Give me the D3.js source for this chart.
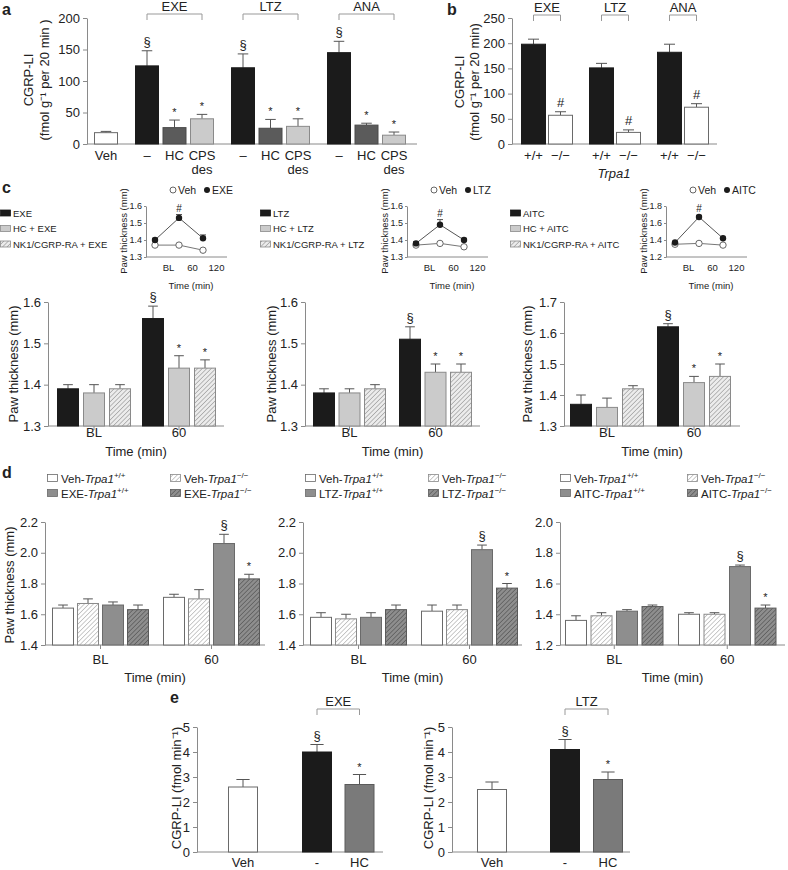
<!DOCTYPE html>
<html><head><meta charset="utf-8">
<script src="https://cdn.jsdelivr.net/npm/d3@7"></script>
<style>body{margin:0;background:#fff} svg{font-family:"Liberation Sans",Arial,sans-serif}</style>
</head><body><svg id="c" width="788" height="870"></svg>
<script>
// ---------------- DATA ----------------
// Panel a
const aGroupNames = ["", "EXE", "LTZ", "ANA"];
const aLabels = [["Veh"], ["–", "HC", "CPS|des"], ["–", "HC", "CPS|des"], ["–", "HC", "CPS|des"]];
const aMeans = [[18], [124, 26, 40], [121, 25, 28], [145, 30, 14]];
const aErrTop = [[20], [148, 38, 47], [143, 39, 40], [163, 33, 19]];
const aMarks = [[""], ["§", "*", "*"], ["§", "*", "*"], ["§", "*", "*"]];
const aTicks = [0, 50, 100, 150, 200];
// Panel b
const bGroupNames = ["EXE", "LTZ", "ANA"];
const bLabels = ["+/+", "−/−"];
const bMeans = [[198, 57], [151, 23], [182, 73]];
const bErrTop = [[208, 64], [160, 28], [198, 80]];
const bMarks = ["", "#"];
const bTicks = [0, 50, 100, 150, 200, 250];
// Panel c
const cDrugs = ["EXE", "LTZ", "AITC"];
const cTimes = ["BL", "60"];
const cExeMeans = [[1.39, 1.38, 1.39], [1.56, 1.44, 1.44]];
const cExeErr = [[1.40, 1.40, 1.40], [1.59, 1.47, 1.46]];
const cLtzMeans = [[1.38, 1.38, 1.39], [1.51, 1.43, 1.43]];
const cLtzErr = [[1.39, 1.39, 1.40], [1.54, 1.45, 1.45]];
const cAitcMeans = [[1.37, 1.36, 1.42], [1.62, 1.44, 1.46]];
const cAitcErr = [[1.40, 1.39, 1.43], [1.63, 1.46, 1.50]];
const cMarks = [["", "", ""], ["§", "*", "*"]];
const cTicks12 = [1.3, 1.4, 1.5, 1.6];
const cTicks3 = [1.3, 1.4, 1.5, 1.6, 1.7];
// insets of c
const insetTimes = ["BL", "60", "120"];
const insExeVeh = [1.37, 1.37, 1.34];
const insExeDrug = [1.40, 1.53, 1.41];
const insExeErr = [1.41, 1.55, 1.43];
const insLtzVeh = [1.37, 1.38, 1.36];
const insLtzDrug = [1.38, 1.49, 1.40];
const insLtzErr = [1.39, 1.52, 1.41];
const insAitcVeh = [1.35, 1.36, 1.34];
const insAitcDrug = [1.37, 1.67, 1.42];
const insAitcErr = [1.38, 1.69, 1.43];
const insTicks12 = [1.3, 1.4, 1.5, 1.6];
const insTicks3 = [1.2, 1.4, 1.6, 1.8];
// Panel d
const dExeMeans = [[1.64, 1.67, 1.66, 1.63], [1.71, 1.70, 2.06, 1.83]];
const dExeErr = [[1.66, 1.70, 1.68, 1.66], [1.73, 1.76, 2.12, 1.86]];
const dLtzMeans = [[1.58, 1.57, 1.58, 1.63], [1.62, 1.63, 2.02, 1.77]];
const dLtzErr = [[1.61, 1.60, 1.61, 1.66], [1.66, 1.66, 2.05, 1.80]];
const dAitcMeans = [[1.36, 1.39, 1.42, 1.45], [1.40, 1.40, 1.71, 1.44]];
const dAitcErr = [[1.39, 1.41, 1.43, 1.46], [1.41, 1.41, 1.72, 1.46]];
const dMarks = [["", "", "", ""], ["", "", "§", "*"]];
const dTicks12 = [1.4, 1.6, 1.8, 2.0, 2.2];
const dTicks3 = [1.2, 1.4, 1.6, 1.8, 2.0];
// Panel e
const eLabels = ["Veh", "-", "HC"];
const eExeMeans = [2.6, 4.0, 2.7];
const eExeErr = [2.9, 4.3, 3.1];
const eLtzMeans = [2.5, 4.1, 2.9];
const eLtzErr = [2.8, 4.5, 3.2];
const eMarks = ["", "§", "*"];
const eTicks = [0, 1, 2, 3, 4, 5];

// ---------------- STYLE ----------------
const AX = "#8a8a8a", TXT = "#222";
const svg = d3.select("#c");
const defs = svg.append("defs");
function hatch(id, bg, line) {
  const p = defs.append("pattern").attr("id", id).attr("patternUnits", "userSpaceOnUse")
    .attr("width", 3.2).attr("height", 3.2).attr("patternTransform", "rotate(45)");
  p.append("rect").attr("width", 3.2).attr("height", 3.2).attr("fill", bg);
  p.append("line").attr("x1", 0).attr("y1", 0).attr("x2", 0).attr("y2", 3.2).attr("stroke", line).attr("stroke-width", 1.1);
}
hatch("hL", "#ececec", "#8a8a8a");
hatch("hW", "#ffffff", "#a0a0a0");
hatch("hD", "#8e8e8e", "#4a4a4a");
const FILL = {
  white: ["#fff", "#6a6a6a"], black: ["#1b1b1b", "#1b1b1b"], dark: ["#5b5b5b", "#4a4a4a"],
  light: ["#cbcbcb", "#8a8a8a"], hatchL: ["url(#hL)", "#8a8a8a"], hatchW: ["url(#hW)", "#8a8a8a"],
  mid: ["#8e8e8e", "#6a6a6a"], hatchD: ["url(#hD)", "#5a5a5a"], eHC: ["#7a7a7a", "#5a5a5a"]
};

function txt(g, x, y, s, o = {}) {
  return g.append("text").attr("x", x).attr("y", y).text(s)
    .attr("font-size", o.size || 12).attr("fill", o.fill || TXT)
    .attr("text-anchor", o.anchor || "middle").attr("font-weight", o.weight || null)
    .attr("font-style", o.style || null);
}
function vlabel(x, y, s, size) {
  svg.append("text").attr("transform", `translate(${x},${y}) rotate(-90)`).attr("dy", "0.35em")
    .attr("text-anchor", "middle").attr("font-size", size || 12).attr("fill", TXT).text(s);
}
function styleAxis(a, size) {
  a.select(".domain").attr("stroke", AX);
  a.selectAll(".tick line").attr("stroke", AX);
  a.selectAll(".tick text").attr("fill", TXT).attr("font-size", size || 12)
    .attr("font-family", '"Liberation Sans",Arial,sans-serif');
}

// generic grouped bar chart
function barChart(o) {
  const g = svg.append("g");
  const y = d3.scaleLinear().domain(o.yDomain).range(o.yRange);
  const slot = d3.scaleLinear().domain([0, 1]).range([o.start, o.start + o.step]);
  const gf = o.gap / o.step;
  const items = [];
  let k = 0;
  o.means.forEach((grp, gi) => grp.forEach((v, bi) => {
    items.push({ v, e: o.err[gi][bi], mark: o.marks[gi][bi], style: o.styles(gi, bi), gi, bi, x: slot(k + gi * gf) });
    k++;
  }));
  const ax = g.append("g").attr("transform", `translate(${o.axisX},0)`)
    .call(d3.axisLeft(y).tickValues(o.ticks).tickFormat(d3.format(o.fmt)).tickSize(4).tickSizeOuter(0));
  styleAxis(ax, o.tickSize);
  const y0 = y(o.yDomain[0]);
  g.append("line").attr("x1", o.axisX).attr("x2", o.axisEnd).attr("y1", y0).attr("y2", y0).attr("stroke", AX);
  const bw = o.barW;
  items.forEach(d => {
    const cx = d.x + bw / 2;
    g.append("line").attr("x1", cx).attr("x2", cx).attr("y1", y(d.v)).attr("y2", y(d.e)).attr("stroke", "#555");
    g.append("line").attr("x1", cx - bw * 0.22).attr("x2", cx + bw * 0.22).attr("y1", y(d.e)).attr("y2", y(d.e)).attr("stroke", "#555");
  });
  g.selectAll("rect.bar").data(items).join("rect").attr("class", "bar")
    .attr("x", d => d.x + 0.5).attr("width", bw - 1)
    .attr("y", d => y(d.v)).attr("height", d => y0 - y(d.v))
    .attr("fill", d => FILL[d.style][0]).attr("stroke", d => FILL[d.style][1]);
  items.forEach(d => {
    if (!d.mark) return;
    const star = d.mark === "*";
    txt(g, d.x + bw / 2, y(d.e) - (star ? 4 : 5), d.mark, { size: star ? 11 : 13 });
  });
  const centers = o.means.map((grp, gi) => {
    const its = items.filter(d => d.gi === gi);
    return (its[0].x + its[its.length - 1].x + bw) / 2;
  });
  return { g, y, items, centers, y0 };
}

function bracket(g, x1, x2, yb, label, size) {
  g.append("path").attr("d", `M${x1},${yb + 6}V${yb}H${x2}V${yb + 6}`).attr("fill", "none").attr("stroke", "#999");
  txt(g, (x1 + x2) / 2, yb - 3, label, { size: size || 13 });
}

// ---------------- PANEL a ----------------
txt(svg, 2, 15, "a", { anchor: "start", weight: "bold", size: 16 });
{
  const styleA = (gi, bi) => gi === 0 ? "white" : ["black", "dark", "light"][bi];
  const c = barChart({ means: aMeans, err: aErrTop, marks: aMarks, styles: styleA, yDomain: [0, 200], yRange: [144, 18],
    ticks: aTicks, fmt: "d", axisX: 87, axisEnd: 417, start: 94, step: 27.5, gap: 13.5, barW: 24, tickSize: 13 });
  c.items.forEach(d => {
    const lab = aLabels[d.gi][d.bi].split("|");
    lab.forEach((s, i) => txt(c.g, d.x + 12, 160 + i * 14, s, { size: 13 }));
  });
  aGroupNames.forEach((n, gi) => {
    if (!n) return;
    const its = c.items.filter(d => d.gi === gi);
    bracket(c.g, its[0].x + 12, its[2].x + 12, 14, n);
  });
  vlabel(28, 80, "CGRP-LI", 13);
  vlabel(44, 80, "(fmol g⁻¹ per 20 min )", 13);
}

// ---------------- PANEL b ----------------
txt(svg, 447, 15, "b", { anchor: "start", weight: "bold", size: 16 });
{
  const c = barChart({ means: bMeans, err: bErrTop, marks: bMeans.map(() => bMarks), styles: (gi, bi) => bi === 0 ? "black" : "white",
    yDomain: [0, 250], yRange: [144, 18], ticks: bTicks, fmt: "d", axisX: 512, axisEnd: 717, start: 521, step: 27, gap: 14, barW: 25, tickSize: 13 });
  c.items.forEach(d => txt(c.g, d.x + 12.5, 160, bLabels[d.bi], { size: 13 }));
  bGroupNames.forEach((n, gi) => {
    const its = c.items.filter(d => d.gi === gi);
    bracket(c.g, its[0].x + 12.5, its[1].x + 12.5, 15, n);
  });
  txt(c.g, 614, 178, "Trpa1", { size: 13, style: "italic" });
  vlabel(459, 82, "CGRP-LI", 13);
  vlabel(474, 82, "(fmol g⁻¹ per 20 min)", 13);
}

// ---------------- PANEL c ----------------
txt(svg, 2, 193, "c", { anchor: "start", weight: "bold", size: 16 });
const cStyle = (gi, bi) => ["black", "light", "hatchL"][bi];
const cCfg = [
  { means: cExeMeans, err: cExeErr, axisX: 48, axisEnd: 224, start: 57, step: 26, gap: 7, dom: [1.3, 1.6], ticks: cTicks12, ylab: 13 },
  { means: cLtzMeans, err: cLtzErr, axisX: 305, axisEnd: 480, start: 313, step: 25.5, gap: 9.5, dom: [1.3, 1.6], ticks: cTicks12, ylab: 271 },
  { means: cAitcMeans, err: cAitcErr, axisX: 564, axisEnd: 740, start: 570, step: 26, gap: 9, dom: [1.3, 1.7], ticks: cTicks3, ylab: 527 }
];
cCfg.forEach(cf => {
  const c = barChart({ means: cf.means, err: cf.err, marks: cMarks, styles: cStyle, yDomain: cf.dom, yRange: [426, 302],
    ticks: cf.ticks, fmt: ".1f", axisX: cf.axisX, axisEnd: cf.axisEnd, start: cf.start, step: cf.step, gap: cf.gap, barW: 22, tickSize: 13 });
  c.centers.forEach((cx, i) => {
    c.g.append("line").attr("x1", cx).attr("x2", cx).attr("y1", c.y0).attr("y2", c.y0 + 4).attr("stroke", AX);
    txt(c.g, cx, 437, cTimes[i], { size: 13 });
  });
  txt(c.g, (cf.axisX + cf.axisEnd) / 2, 456, "Time (min)", { size: 13 });
  vlabel(cf.ylab, 364, "Paw thickness (mm)", 13);
});
// legends
const legX = [0, 260, 510];
const legFill = ["black", "light", "hatchL"];
cDrugs.forEach((drug, i) => {
  const labs = [drug, "HC + " + drug, "NK1/CGRP-RA + " + drug];
  labs.forEach((s, r) => {
    const yy = 213 + r * 15.5;
    const f = FILL[legFill[r]];
    svg.append("rect").attr("x", legX[i] + 0.5).attr("y", yy - 3).attr("width", 10).attr("height", 6)
      .attr("fill", f[0]).attr("stroke", f[1]).attr("stroke-width", 0.8);
    txt(svg, legX[i] + 13, yy + 3.5, s, { anchor: "start", size: 9.5 });
  });
});
// insets
const insCfg = [
  { veh: insExeVeh, drug: insExeDrug, err: insExeErr, name: "EXE", ax: 146, dom: [1.3, 1.6], ticks: insTicks12 },
  { veh: insLtzVeh, drug: insLtzDrug, err: insLtzErr, name: "LTZ", ax: 407, dom: [1.3, 1.6], ticks: insTicks12 },
  { veh: insAitcVeh, drug: insAitcDrug, err: insAitcErr, name: "AITC", ax: 666, dom: [1.2, 1.8], ticks: insTicks3 }
];
insCfg.forEach(ic => {
  const g = svg.append("g");
  const y = d3.scaleLinear().domain(ic.dom).range([257, 206]);
  const x = d3.scalePoint().domain(insetTimes).range([ic.ax + 9, ic.ax + 57]);
  const ax = g.append("g").attr("transform", `translate(${ic.ax},0)`)
    .call(d3.axisLeft(y).tickValues(ic.ticks).tickFormat(d3.format(".1f")).tickSize(2).tickPadding(2).tickSizeOuter(0));
  styleAxis(ax, 9);
  const xa = g.append("g").attr("transform", `translate(0,257)`)
    .call(d3.axisBottom(x).tickSize(0).tickPadding(7));
  xa.select(".domain").remove();
  styleAxis(xa, 9.5);
  xa.selectAll(".tick text").attr("transform", "translate(13,0)");
  g.append("line").attr("x1", ic.ax).attr("x2", ic.ax + 81).attr("y1", 257).attr("y2", 257).attr("stroke", AX);
  const line = d3.line().x((d, i) => x(insetTimes[i])).y(d => y(d));
  g.append("path").attr("d", line(ic.veh)).attr("fill", "none").attr("stroke", "#777");
  g.append("path").attr("d", line(ic.drug)).attr("fill", "none").attr("stroke", "#555");
  ic.err.forEach((e, i) => {
    const cx = x(insetTimes[i]);
    g.append("line").attr("x1", cx).attr("x2", cx).attr("y1", y(ic.drug[i])).attr("y2", y(e)).attr("stroke", "#555");
    g.append("line").attr("x1", cx - 3).attr("x2", cx + 3).attr("y1", y(e)).attr("y2", y(e)).attr("stroke", "#555");
  });
  ic.veh.forEach((v, i) => g.append("circle").attr("cx", x(insetTimes[i])).attr("cy", y(v)).attr("r", 3.2).attr("fill", "#fff").attr("stroke", "#666"));
  ic.drug.forEach((v, i) => g.append("circle").attr("cx", x(insetTimes[i])).attr("cy", y(v)).attr("r", 3.2).attr("fill", "#1b1b1b"));
  txt(g, x("60"), y(ic.err[1]) - 3, "#", { size: 10 });
  txt(g, ic.ax + 45, 289, "Time (min)", { size: 9.5 });
  vlabel(ic.ax - 22, 231, "Paw thickness (mm)", 9.5);
  const lx = ic.ax + 27;
  g.append("circle").attr("cx", lx).attr("cy", 190).attr("r", 3).attr("fill", "#fff").attr("stroke", "#666");
  txt(g, lx + 5, 194, "Veh", { anchor: "start", size: 10.5 });
  g.append("circle").attr("cx", lx + 34).attr("cy", 190).attr("r", 3).attr("fill", "#1b1b1b");
  txt(g, lx + 39, 194, ic.name, { anchor: "start", size: 10.5 });
});

// ---------------- PANEL d ----------------
txt(svg, 2, 478, "d", { anchor: "start", weight: "bold", size: 16 });
const dStyle = (gi, bi) => ["white", "hatchW", "mid", "hatchD"][bi];
const dCfg = [
  { means: dExeMeans, err: dExeErr, name: "EXE", axisX: 45, axisEnd: 265, start: 52, step: 25, gap: 11, dom: [1.4, 2.2], ticks: dTicks12, leg: [47, 170] },
  { means: dLtzMeans, err: dLtzErr, name: "LTZ", axisX: 303, axisEnd: 522, start: 310, step: 25, gap: 11, dom: [1.4, 2.2], ticks: dTicks12, leg: [305, 428] },
  { means: dAitcMeans, err: dAitcErr, name: "AITC", axisX: 560, axisEnd: 785, start: 565, step: 25.5, gap: 11, dom: [1.2, 2.0], ticks: dTicks3, leg: [560, 687] }
];
dCfg.forEach(cf => {
  const c = barChart({ means: cf.means, err: cf.err, marks: dMarks, styles: dStyle, yDomain: cf.dom, yRange: [645, 522],
    ticks: cf.ticks, fmt: ".1f", axisX: cf.axisX, axisEnd: cf.axisEnd, start: cf.start, step: cf.step, gap: cf.gap, barW: 22, tickSize: 13 });
  c.centers.forEach((cx, i) => {
    c.g.append("line").attr("x1", cx).attr("x2", cx).attr("y1", c.y0).attr("y2", c.y0 + 4).attr("stroke", AX);
    txt(c.g, cx, 664, cTimes[i], { size: 13 });
  });
  txt(c.g, (cf.axisX + cf.axisEnd) / 2, 682, "Time (min)", { size: 13 });
  const entries = [["Veh", "+/+", "white", 0, 0], ["Veh", "−/−", "hatchW", 1, 0], [cf.name, "+/+", "mid", 0, 1], [cf.name, "−/−", "hatchD", 1, 1]];
  entries.forEach(([pre, sup, st, col, row]) => {
    const lx = cf.leg[col], ly = 478 + row * 15;
    const f = FILL[st];
    svg.append("rect").attr("x", lx + 0.5).attr("y", ly - 3.5).attr("width", 10).attr("height", 7)
      .attr("fill", f[0]).attr("stroke", f[1]).attr("stroke-width", 0.8);
    const t = svg.append("text").attr("x", lx + 14).attr("y", ly + 4.5).attr("font-size", 11.5).attr("fill", TXT);
    t.append("tspan").text(pre + "-");
    t.append("tspan").attr("font-style", "italic").text("Trpa1");
    t.append("tspan").attr("font-size", 8).attr("dy", -5).text(sup);
  });
});
vlabel(9, 585, "Paw thickness (mm)", 13);

// ---------------- PANEL e ----------------
txt(svg, 170, 703, "e", { anchor: "start", weight: "bold", size: 16 });
const eStyle = (gi, bi) => gi === 0 ? "white" : ["black", "eHC"][bi];
const eCfg = [
  { means: eExeMeans, err: eExeErr, name: "EXE", axisX: 197, axisEnd: 383, start: 228, step: 42.5, gap: 31.5, ylab: 176 },
  { means: eLtzMeans, err: eLtzErr, name: "LTZ", axisX: 452, axisEnd: 630, start: 477, step: 43, gap: 30, ylab: 428 }
];
eCfg.forEach(cf => {
  const means = [[cf.means[0]], cf.means.slice(1)];
  const err = [[cf.err[0]], cf.err.slice(1)];
  const marks = [[eMarks[0]], eMarks.slice(1)];
  const c = barChart({ means, err, marks, styles: eStyle, yDomain: [0, 5], yRange: [852, 727], ticks: eTicks, fmt: "d",
    axisX: cf.axisX, axisEnd: cf.axisEnd, start: cf.start, step: cf.step, gap: cf.gap, barW: 30, tickSize: 13 });
  c.items.forEach((d, i) => txt(c.g, d.x + 15, 867, eLabels[i], { size: 13 }));
  const its = c.items;
  bracket(c.g, its[1].x + 15, its[2].x + 15, 709, cf.name);
  vlabel(cf.ylab, 788, "CGRP-LI (fmol min⁻¹)", 13);
});
</script></body></html>
